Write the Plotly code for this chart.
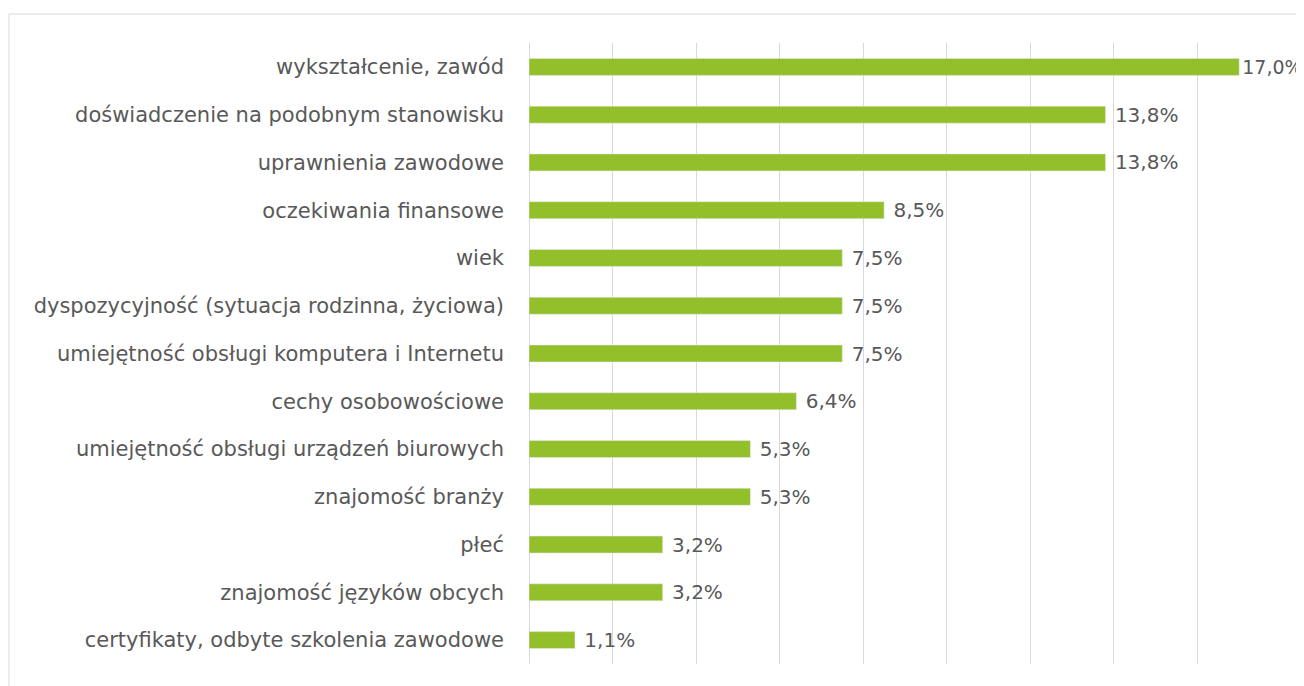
import plotly.graph_objects as go

# Kategorie i wartości (%)
kategorie = [
    "wykształcenie, zawód",
    "doświadczenie na podobnym stanowisku",
    "uprawnienia zawodowe",
    "oczekiwania finansowe",
    "wiek",
    "dyspozycyjność (sytuacja rodzinna, życiowa)",
    "umiejętność obsługi komputera i Internetu",
    "cechy osobowościowe",
    "umiejętność obsługi urządzeń biurowych",
    "znajomość branży",
    "płeć",
    "znajomość języków obcych",
    "certyfikaty, odbyte szkolenia zawodowe",
]
wartosci = [17.0, 13.8, 13.8, 8.5, 7.5, 7.5, 7.5, 6.4, 5.3, 5.3, 3.2, 3.2, 1.1]

kolor = "#93c02a"
tekst = "#595959"
font_name = "DejaVu Sans"

# le premier label colle à la barre (manque de place à droite)
szablony = ["%{x:.1f}%" if i == 0 else " %{x:.1f}%" for i in range(len(wartosci))]
rozmiary = [19 if i == 0 else 20 for i in range(len(wartosci))]

fig = go.Figure()
fig.add_trace(go.Bar(
    y=kategorie,
    x=wartosci,
    orientation="h",
    marker_color=kolor,
    texttemplate=szablony,
    textposition="outside",
    constraintext="none",
    textfont=dict(size=rozmiary, color=tekst, family=font_name),
    cliponaxis=False,
))

# la page ajoute une marge de 8 px : figure un peu plus petite
fig.update_layout(
    width=1296,
    height=678,
    separators=", ",
    plot_bgcolor="white",
    paper_bgcolor="white",
    bargap=0.644,
    showlegend=False,
    font=dict(family=font_name, color=tekst, size=20),
    margin={"l": 521, "r": 23, "t": 35, "b": 22},
    xaxis=dict(
        range=[0, 18],
        dtick=2,
        showticklabels=False,
        showgrid=True,
        gridcolor="#d9d9d9",
        gridwidth=1,
        zeroline=True,
        zerolinecolor="#d9d9d9",
        zerolinewidth=1,
    ),
    yaxis=dict(
        autorange="reversed",
        showgrid=False,
        ticks="",
        ticklabelstandoff=24,
        tickfont=dict(size=21, color=tekst, family=font_name),
    ),
    shapes=[dict(
        type="rect", xref="paper", yref="paper",
        x0=-0.6915, x1=1.2, y0=-0.2, y1=1.0467,
        line=dict(color="#d9d9d9", width=1),
        layer="below",
    )],
)

fig.write_html("out.html")
